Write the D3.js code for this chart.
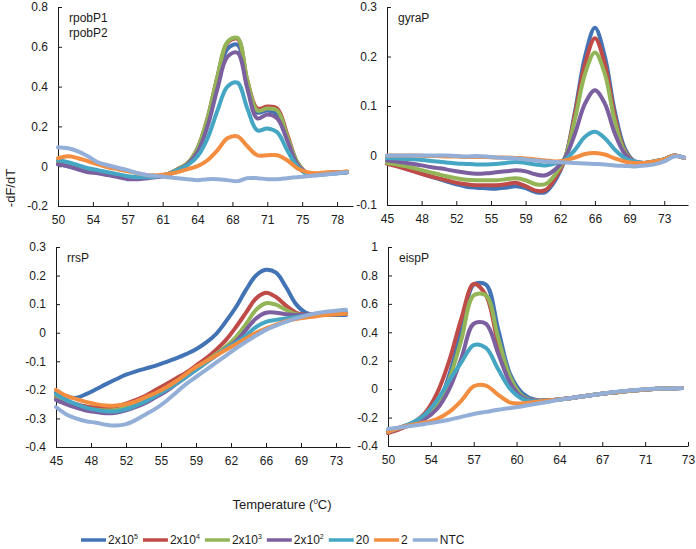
<!DOCTYPE html>
<html>
<head>
<meta charset="utf-8">
<script src="https://cdn.jsdelivr.net/npm/d3@7"></script>
<style>
  body { margin: 0; background: #fff; }
  svg { font-family: "Liberation Sans", Arial, sans-serif; }
  .axis text { font-size: 12px; fill: #1a1a1a; }
  .axis path, .axis line { stroke: #1a1a1a; stroke-width: 1; }
</style>
</head>
<body>
<div id="chart"></div>
<script>
const width = 696, height = 549;

// series (legend order)
const seriesBase = ['2x10', '2x10', '2x10', '2x10', '20', '2', 'NTC'];
const seriesExp = ['5', '4', '3', '2', '', '', ''];
const colors = ['#4273b4', '#bf4b48', '#93b558', '#7b5f9e', '#44a6c2', '#f38d40', '#93afd8'];

// panel rpobP1 / rpobP2
const tempsA = [50,51,52,53,54,55,56,57,58,59,60,61,62,63,64,65,66,67,68,69,70,71,72,73,74,75,76,77,78,79];
const ticksA = ['50','54','57','61','64','68','71','75','78'];
const yTicksA = [-0.2, 0, 0.2, 0.4, 0.6, 0.8];
const valuesA = [
  [0.01,0,-0.015,-0.025,-0.03,-0.04,-0.05,-0.06,-0.06,-0.055,-0.05,-0.04,-0.015,0.01,0.08,0.22,0.42,0.59,0.61,0.41,0.27,0.28,0.26,0.14,0.02,-0.035,-0.04,-0.035,-0.035,-0.03],
  [0.02,0.015,0,-0.015,-0.025,-0.035,-0.045,-0.055,-0.058,-0.055,-0.05,-0.04,-0.015,0.015,0.09,0.24,0.45,0.62,0.64,0.43,0.29,0.3,0.29,0.16,0.02,-0.035,-0.04,-0.035,-0.03,-0.03],
  [0.02,0.01,-0.005,-0.02,-0.03,-0.04,-0.05,-0.058,-0.06,-0.055,-0.05,-0.04,-0.015,0.015,0.09,0.24,0.45,0.625,0.645,0.43,0.28,0.29,0.28,0.15,0.02,-0.035,-0.04,-0.035,-0.03,-0.03],
  [0.01,0,-0.015,-0.03,-0.035,-0.045,-0.055,-0.065,-0.065,-0.06,-0.055,-0.045,-0.02,0.01,0.07,0.2,0.39,0.55,0.57,0.39,0.24,0.26,0.24,0.13,0.01,-0.035,-0.04,-0.035,-0.03,-0.03],
  [0.03,0.02,0.005,-0.01,-0.02,-0.03,-0.04,-0.05,-0.055,-0.055,-0.05,-0.04,-0.02,0.005,0.05,0.14,0.28,0.4,0.42,0.29,0.18,0.19,0.17,0.08,0,-0.04,-0.045,-0.04,-0.035,-0.03],
  [0.04,0.05,0.04,0.025,0.01,-0.005,-0.015,-0.025,-0.035,-0.045,-0.045,-0.04,-0.03,-0.015,0,0.03,0.08,0.14,0.15,0.1,0.055,0.055,0.055,0.03,-0.01,-0.03,-0.035,-0.03,-0.03,-0.025],
  [0.095,0.09,0.075,0.05,0.02,0.005,-0.008,-0.02,-0.035,-0.045,-0.05,-0.055,-0.06,-0.065,-0.07,-0.065,-0.065,-0.07,-0.075,-0.06,-0.06,-0.065,-0.065,-0.06,-0.055,-0.05,-0.045,-0.04,-0.035,-0.03]
];

// panel gyraP
const tempsB = [45,46,47,48,49,50,51,52,53,54,55,56,57,58,59,60,61,62,63,64,65,66,67,68,69,70,71,72,73,74,75];
const ticksB = ['45','48','52','55','59','62','66','69','73'];
const yTicksB = [-0.1, 0, 0.1, 0.2, 0.3];
const valuesB = [
  [-0.015,-0.02,-0.027,-0.033,-0.04,-0.046,-0.052,-0.058,-0.063,-0.065,-0.066,-0.067,-0.065,-0.062,-0.066,-0.074,-0.074,-0.05,-0.005,0.09,0.2,0.258,0.2,0.09,0.015,-0.012,-0.015,-0.012,-0.008,0,-0.005],
  [-0.017,-0.022,-0.028,-0.034,-0.04,-0.045,-0.05,-0.055,-0.058,-0.06,-0.06,-0.06,-0.058,-0.055,-0.062,-0.071,-0.07,-0.046,-0.005,0.085,0.185,0.237,0.185,0.08,0.01,-0.012,-0.015,-0.012,-0.008,0,-0.005],
  [-0.015,-0.018,-0.022,-0.027,-0.032,-0.037,-0.042,-0.046,-0.049,-0.05,-0.05,-0.05,-0.048,-0.046,-0.05,-0.058,-0.058,-0.038,-0.003,0.075,0.165,0.208,0.165,0.07,0.008,-0.012,-0.015,-0.012,-0.008,0,-0.005],
  [-0.01,-0.012,-0.015,-0.018,-0.022,-0.025,-0.028,-0.032,-0.035,-0.037,-0.036,-0.034,-0.032,-0.03,-0.032,-0.038,-0.04,-0.028,-0.004,0.045,0.105,0.132,0.105,0.045,0.004,-0.012,-0.015,-0.012,-0.008,0,-0.005],
  [-0.005,-0.006,-0.007,-0.008,-0.01,-0.012,-0.014,-0.016,-0.017,-0.018,-0.018,-0.017,-0.015,-0.013,-0.015,-0.018,-0.02,-0.016,-0.008,0.012,0.038,0.048,0.035,0.012,-0.005,-0.012,-0.015,-0.012,-0.008,0,-0.005],
  [0,0,0,0,-0.001,-0.001,-0.002,-0.002,-0.003,-0.003,-0.003,-0.004,-0.004,-0.005,-0.006,-0.008,-0.01,-0.012,-0.01,-0.004,0.003,0.005,0.002,-0.006,-0.012,-0.015,-0.015,-0.012,-0.008,0,-0.005],
  [0,0,0,0,0,0,0,-0.001,-0.002,-0.001,-0.002,-0.004,-0.005,-0.006,-0.008,-0.01,-0.012,-0.013,-0.014,-0.015,-0.016,-0.017,-0.018,-0.02,-0.021,-0.022,-0.02,-0.018,-0.012,-0.002,-0.004]
];

// panel rrsP
const tempsC = [45,46,47,48,49,50,51,52,53,54,55,56,57,58,59,60,61,62,63,64,65,66,67,68,69,70,71,72,73,74];
const ticksC = ['45','48','52','55','59','62','66','69','73'];
const yTicksC = [-0.4, -0.3, -0.2, -0.1, 0, 0.1, 0.2, 0.3];
const valuesC = [
  [-0.21,-0.222,-0.228,-0.215,-0.198,-0.18,-0.163,-0.147,-0.135,-0.125,-0.115,-0.103,-0.09,-0.075,-0.058,-0.035,-0.005,0.04,0.09,0.15,0.2,0.22,0.21,0.16,0.1,0.07,0.063,0.062,0.062,0.062],
  [-0.225,-0.24,-0.25,-0.258,-0.262,-0.262,-0.258,-0.248,-0.235,-0.22,-0.2,-0.18,-0.16,-0.14,-0.115,-0.09,-0.06,-0.025,0.02,0.07,0.12,0.14,0.125,0.095,0.07,0.063,0.063,0.064,0.065,0.066],
  [-0.23,-0.245,-0.258,-0.265,-0.27,-0.272,-0.27,-0.262,-0.25,-0.235,-0.215,-0.195,-0.175,-0.15,-0.125,-0.1,-0.075,-0.048,-0.015,0.03,0.08,0.103,0.098,0.08,0.065,0.062,0.063,0.064,0.065,0.066],
  [-0.235,-0.25,-0.262,-0.272,-0.278,-0.282,-0.28,-0.272,-0.26,-0.245,-0.225,-0.205,-0.18,-0.155,-0.13,-0.105,-0.08,-0.055,-0.03,0.01,0.05,0.07,0.07,0.065,0.062,0.062,0.063,0.064,0.065,0.066],
  [-0.215,-0.235,-0.25,-0.262,-0.27,-0.275,-0.275,-0.268,-0.255,-0.24,-0.22,-0.2,-0.178,-0.155,-0.13,-0.105,-0.08,-0.055,-0.035,-0.01,0.02,0.038,0.045,0.05,0.055,0.06,0.065,0.068,0.07,0.072],
  [-0.2,-0.22,-0.232,-0.242,-0.25,-0.255,-0.255,-0.25,-0.24,-0.225,-0.21,-0.192,-0.17,-0.145,-0.12,-0.1,-0.08,-0.06,-0.04,-0.02,0,0.015,0.028,0.04,0.048,0.053,0.058,0.062,0.065,0.066],
  [-0.26,-0.285,-0.3,-0.31,-0.315,-0.322,-0.325,-0.32,-0.305,-0.285,-0.265,-0.24,-0.21,-0.18,-0.155,-0.13,-0.105,-0.08,-0.055,-0.032,-0.01,0.01,0.025,0.038,0.05,0.06,0.068,0.073,0.077,0.08]
];

// panel eispP
const tempsD = [50,51,52,53,54,55,56,57,58,59,60,61,62,63,64,65,66,67,68,69,70,71,72,73,74];
const ticksD = ['50','54','57','60','64','67','71','73'];
const yTicksD = [-0.4, -0.2, 0, 0.2, 0.4, 0.6, 0.8, 1];
const valuesD = [
  [-0.3,-0.27,-0.24,-0.2,-0.12,0.1,0.42,0.735,0.735,0.42,0.1,-0.03,-0.075,-0.078,-0.072,-0.062,-0.05,-0.038,-0.027,-0.018,-0.01,-0.003,0.002,0.006,0.008],
  [-0.31,-0.28,-0.24,-0.17,-0.03,0.2,0.5,0.74,0.66,0.32,0.06,-0.06,-0.08,-0.078,-0.072,-0.062,-0.05,-0.038,-0.027,-0.018,-0.01,-0.003,0.002,0.006,0.008],
  [-0.3,-0.27,-0.24,-0.2,-0.11,0.07,0.35,0.66,0.66,0.36,0.08,-0.05,-0.08,-0.078,-0.072,-0.062,-0.05,-0.038,-0.027,-0.018,-0.01,-0.003,0.002,0.006,0.008],
  [-0.3,-0.27,-0.245,-0.21,-0.14,0,0.22,0.46,0.46,0.25,0.04,-0.06,-0.08,-0.078,-0.072,-0.062,-0.05,-0.038,-0.027,-0.018,-0.01,-0.003,0.002,0.006,0.008],
  [-0.3,-0.27,-0.235,-0.18,-0.08,0.06,0.19,0.31,0.29,0.14,0,-0.07,-0.085,-0.08,-0.072,-0.062,-0.05,-0.038,-0.027,-0.018,-0.01,-0.003,0.002,0.006,0.008],
  [-0.3,-0.27,-0.25,-0.235,-0.21,-0.16,-0.08,0.02,0.025,-0.04,-0.095,-0.1,-0.09,-0.08,-0.072,-0.062,-0.05,-0.038,-0.027,-0.018,-0.01,-0.003,0.002,0.006,0.008],
  [-0.28,-0.27,-0.258,-0.245,-0.232,-0.215,-0.195,-0.175,-0.16,-0.145,-0.132,-0.12,-0.105,-0.09,-0.075,-0.062,-0.05,-0.037,-0.025,-0.015,-0.007,0,0.003,0.005,0.006]
];

// layout of each panel (pixels) and the temperature at the first tick / end of axis
const panels = [
  { name: ['rpobP1', 'rpobP2'], temps: tempsA, values: valuesA, ticks: ticksA, yTicks: yTicksA,
    left: 58, right: 353, top: 7, bottom: 206, t0: 50, tEnd: 79.6 },
  { name: ['gyraP'], temps: tempsB, values: valuesB, ticks: ticksB, yTicks: yTicksB,
    left: 387, right: 688, top: 7, bottom: 205, t0: 45, tEnd: 75.4 },
  { name: ['rrsP'], temps: tempsC, values: valuesC, ticks: ticksC, yTicks: yTicksC,
    left: 56, right: 350, top: 247, bottom: 447, t0: 45, tEnd: 74.4 },
  { name: ['eispP'], temps: tempsD, values: valuesD, ticks: ticksD, yTicks: yTicksD,
    left: 388, right: 688, top: 247, bottom: 446, t0: 50, tEnd: 74.5 }
];
const tickStep = 3.5;

const svg = d3.select('#chart').append('svg').attr('width', width).attr('height', height);

const fmt = d => String(+d.toFixed(1));

const drawPanel = p => {
  const g = svg.append('g');
  const x = d3.scaleLinear().domain([p.t0, p.tEnd]).range([p.left, p.right]);
  const y = d3.scaleLinear().domain(d3.extent(p.yTicks)).range([p.bottom, p.top]);
  const tickPos = p.ticks.map((t, i) => p.t0 + i * tickStep);

  g.append('g')
    .classed('axis', true)
    .attr('transform', `translate(${p.left},0)`)
    .call(d3.axisLeft(y).tickValues(p.yTicks).tickSizeInner(-4).tickSizeOuter(0).tickPadding(10).tickFormat(fmt));

  g.append('g')
    .classed('axis', true)
    .attr('transform', `translate(0,${p.bottom})`)
    .call(d3.axisBottom(x).tickValues(tickPos).tickSizeInner(-4).tickSizeOuter(0).tickPadding(9)
      .tickFormat((d, i) => p.ticks[i]));

  const line = d3.line()
    .x((d, i) => x(p.temps[i]))
    .y(d => y(d))
    .curve(d3.curveCatmullRom.alpha(0.5));

  g.selectAll('path.series')
    .data(p.values)
    .enter()
    .append('path')
    .classed('series', true)
    .attr('d', line)
    .attr('fill', 'none')
    .attr('stroke', (d, i) => colors[i])
    .attr('stroke-width', 4)
    .attr('stroke-linejoin', 'round')
    .attr('stroke-linecap', 'round');

  g.selectAll('text.panel-name')
    .data(p.name)
    .enter()
    .append('text')
    .classed('panel-name', true)
    .attr('x', p.left + 11)
    .attr('y', (d, i) => p.top + 15 + i * 15)
    .attr('font-size', 12)
    .attr('fill', '#1a1a1a')
    .text(d => d);
};

panels.forEach(drawPanel);

// axis titles
svg.append('text')
  .attr('transform', 'translate(15,188) rotate(-90)')
  .attr('text-anchor', 'middle')
  .attr('font-size', 13)
  .attr('fill', '#1a1a1a')
  .text('-dF/dT');

const xTitle = svg.append('text')
  .attr('x', 282)
  .attr('y', 509)
  .attr('text-anchor', 'middle')
  .attr('font-size', 13)
  .attr('fill', '#1a1a1a');
xTitle.append('tspan').text('Temperature (');
xTitle.append('tspan').attr('font-size', 8).attr('dy', -5).text('0');
xTitle.append('tspan').attr('dy', 5).text('C)');

// legend
const legend = svg.append('g').attr('transform', 'translate(81,544)');
let lx = 0;
seriesBase.forEach((name, i) => {
  const item = legend.append('g').attr('transform', `translate(${lx},0)`);
  item.append('line')
    .attr('x1', 0).attr('x2', 25).attr('y1', -4).attr('y2', -4)
    .attr('stroke', colors[i]).attr('stroke-width', 3.5);
  const t = item.append('text')
    .attr('x', 27)
    .attr('y', 0)
    .attr('font-size', 12)
    .attr('fill', '#1a1a1a');
  t.append('tspan').text(name);
  if (seriesExp[i]) t.append('tspan').attr('font-size', 7).attr('dy', -5).text(seriesExp[i]);
  lx += 27 + t.node().getComputedTextLength() + 5;
});
</script>
</body>
</html>
